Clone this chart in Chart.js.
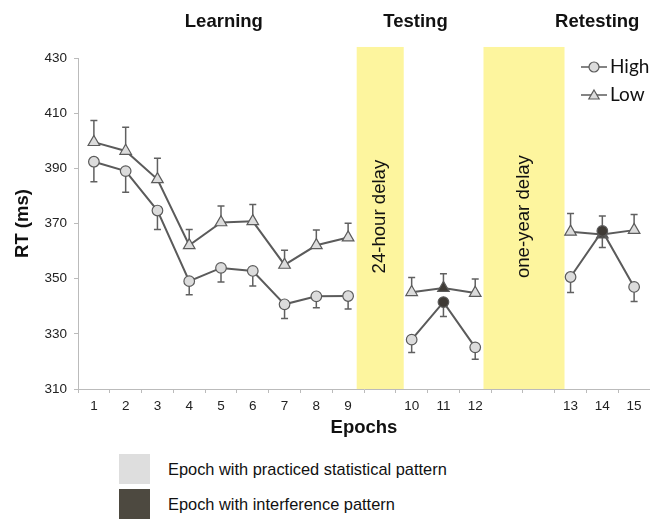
<!DOCTYPE html>
<html>
<head>
<meta charset="utf-8">
<script src="https://cdn.jsdelivr.net/npm/chart.js@4.4.0/dist/chart.umd.min.js"></script>
<style>
    body { margin: 0; background: #fff; }
    #wrap { position: relative; width: 650px; height: 519px; overflow: hidden; }
    #rtChart { position: absolute; left: 0; top: 0; }
    .key-box { position: absolute; left: 119px; width: 31px; height: 30px; }
    .key-text { position: absolute; left: 168px; font: 16.4px "Liberation Sans", Arial, sans-serif; color: #111; }
</style>
</head>
<body>
<div id="wrap">
    <canvas id="rtChart" width="650" height="445"></canvas>
    <div class="key-box" style="top:454px;background:#dedede"></div>
    <div class="key-text" style="top:460px">Epoch with practiced statistical pattern</div>
    <div class="key-box" style="top:489px;background:#4d4940"></div>
    <div class="key-text" style="top:495px">Epoch with interference pattern</div>
</div>
<script>
// empty labels = gaps for the delays
const epochLabels = ["1", "2", "3", "4", "5", "6", "7", "8", "9", "", "10", "11", "12", "", "", "13", "14", "15"];

const highRT  = [392.4, 389.0, 374.7, 349.1, 353.9, 352.8, 340.7, 343.6, 343.7, null, 327.9, 341.5, 325.1, null, null, 350.6, 367.3, 347.0];
const highErr = [7.3, 7.7, 6.9, 4.9, 5.1, 5.5, 5.1, 4.1, 4.7, null, 4.7, 5.2, 4.3, null, null, 5.6, 6.0, 5.3];
const lowRT   = [399.5, 396.3, 386.0, 362.1, 370.4, 370.8, 355.0, 362.1, 364.9, null, 345.1, 346.6, 344.8, null, null, 367.0, 366.0, 367.6];
const lowErr  = [7.8, 8.6, 7.7, 5.7, 5.9, 6.1, 5.3, 5.5, 5.2, null, 5.3, 5.2, 5.1, null, null, 6.6, 6.7, 5.7];

const interferenceEpochs = ["11", "14"];

const yTicks = { min: 310, max: 430, step: 20 };

// delay bands, in category index units
const bandStart = [8.27, 12.26];
const bandEnd = [9.75, 14.81];
const bandLabels = ["24-hour delay", "one-year delay"];

const sectionLabels = ["Learning", "Testing", "Retesting"];
const sectionAt = [4.09, 10.12, 15.84];

const corLinha = "#5b5b5b";
const corClaro = "#dcdcdc";
const corEscuro = "#3f3b36";

function coresPontos() {
    return epochLabels.map(l => interferenceEpochs.includes(l) ? corEscuro : corClaro);
}

const fundoPlugin = {
    id: "fundo",
    beforeDraw(chart) {
        const { ctx, scales: { x, y } } = chart;
        ctx.save();
        for (let i = 0; i < bandStart.length; i++) {
            const x0 = x.getPixelForValue(bandStart[i]);
            const x1 = x.getPixelForValue(bandEnd[i]);
            const yTop = y.getPixelForValue(434);
            const yBot = y.getPixelForValue(yTicks.min);
            ctx.fillStyle = "#fdf59e";
            ctx.fillRect(x0, yTop, x1 - x0, yBot - yTop);

            ctx.save();
            ctx.translate((x0 + x1) / 2, y.getPixelForValue(372.5));
            ctx.rotate(-Math.PI / 2);
            ctx.fillStyle = "#111";
            ctx.font = '18.6px "Liberation Sans", Arial, sans-serif';
            ctx.textAlign = "center";
            ctx.textBaseline = "middle";
            ctx.fillText(bandLabels[i], 0, 0);
            ctx.restore();
        }
        ctx.restore();
    }
};

const errosPlugin = {
    id: "erros",
    beforeDatasetsDraw(chart) {
        const { ctx, scales: { x, y } } = chart;
        const series = [
            { valores: lowRT, erros: lowErr, sinal: 1 },
            { valores: highRT, erros: highErr, sinal: -1 }
        ];
        ctx.save();
        ctx.strokeStyle = "#606060";
        ctx.lineWidth = 1.5;
        series.forEach(s => {
            s.valores.forEach((v, i) => {
                if (v === null) return;
                const px = x.getPixelForValue(i);
                const p0 = y.getPixelForValue(v);
                const p1 = y.getPixelForValue(v + s.sinal * s.erros[i]);
                ctx.beginPath();
                ctx.moveTo(px, p0);
                ctx.lineTo(px, p1);
                ctx.moveTo(px - 3.5, p1);
                ctx.lineTo(px + 3.5, p1);
                ctx.stroke();
            });
        });
        ctx.restore();
    }
};

const textosPlugin = {
    id: "textos",
    afterDraw(chart) {
        const { ctx, scales: { x } } = chart;
        ctx.save();
        ctx.fillStyle = "#111";
        ctx.font = 'bold 18.5px "Liberation Sans", Arial, sans-serif';
        ctx.textAlign = "center";
        ctx.textBaseline = "alphabetic";
        sectionLabels.forEach((t, i) => {
            ctx.fillText(t, x.getPixelForValue(sectionAt[i]), 26.5);
        });

        // legenda
        const itens = [
            { texto: "High", estilo: "circle", raio: 5, y: 67 },
            { texto: "Low", estilo: "triangle", raio: 6, y: 95 }
        ];
        itens.forEach(it => {
            ctx.strokeStyle = corLinha;
            ctx.lineWidth = 1.5;
            ctx.beginPath();
            ctx.moveTo(581, it.y);
            ctx.lineTo(607, it.y);
            ctx.stroke();
            ctx.fillStyle = corClaro;
            ctx.strokeStyle = corLinha;
            ctx.lineWidth = 1.2;
            Chart.helpers.drawPoint(ctx, {
                pointStyle: it.estilo, radius: it.raio, rotation: 0, borderWidth: 1.2
            }, 594, it.estilo === "triangle" ? it.y + 1 : it.y);
            ctx.fillStyle = "#111";
            ctx.font = '19px Lato, "Open Sans", sans-serif';
            ctx.textAlign = "left";
            ctx.textBaseline = "middle";
            ctx.fillText(it.texto, 610, it.y);
        });
        ctx.restore();
    }
};

const ctx = document.getElementById("rtChart").getContext("2d");
const rtChart = new Chart(ctx, {
    type: "line",
    data: {
        labels: epochLabels,
        datasets: [
            {
                label: "High",
                data: highRT,
                borderColor: corLinha,
                borderWidth: 2,
                pointStyle: "circle",
                pointRadius: 5.3,
                pointBorderWidth: 1.2,
                pointBorderColor: corLinha,
                pointBackgroundColor: coresPontos(),
                spanGaps: false
            },
            {
                label: "Low",
                data: lowRT,
                borderColor: corLinha,
                borderWidth: 2,
                pointStyle: "triangle",
                pointRadius: 6.7,
                pointBorderWidth: 1.2,
                pointBorderColor: corLinha,
                pointBackgroundColor: coresPontos(),
                spanGaps: false
            }
        ]
    },
    options: {
        responsive: false,
        animation: false,
        devicePixelRatio: 1,
        layout: { autoPadding: false, padding: { top: 58, left: 0, right: 0, bottom: 0 } },
        plugins: {
            legend: { display: false },
            tooltip: { enabled: false }
        },
        scales: {
            x: {
                type: "category",
                offset: true,
                afterFit: s => { s.height = 56; s.paddingLeft = 0; s.paddingRight = 0; },
                grid: { offset: true, drawOnChartArea: false, tickLength: 4, color: "#bbb" },
                border: { color: "#bbb" },
                ticks: {
                    autoSkip: false, maxRotation: 0, padding: 5, color: "#222",
                    font: { family: '"Liberation Sans", Arial, sans-serif', size: 13.5 }
                },
                title: {
                    display: true, text: "Epochs", color: "#111",
                    padding: { top: 0, bottom: 6 },
                    font: { family: '"Liberation Sans", Arial, sans-serif', size: 18.5, weight: "bold" }
                }
            },
            y: {
                min: yTicks.min,
                max: yTicks.max,
                afterFit: s => { s.width = 78; },
                grid: { drawOnChartArea: false, tickLength: 4, color: "#bbb" },
                border: { color: "#bbb" },
                ticks: {
                    stepSize: yTicks.step, padding: 7, color: "#222",
                    font: { family: '"Liberation Sans", Arial, sans-serif', size: 13.5 }
                },
                title: {
                    display: true, text: "RT (ms)", color: "#111",
                    padding: { top: 12, bottom: 0 },
                    font: { family: '"Liberation Sans", Arial, sans-serif', size: 18.5, weight: "bold" }
                }
            }
        }
    },
    plugins: [fundoPlugin, errosPlugin, textosPlugin]
});
</script>
</body>
</html>
